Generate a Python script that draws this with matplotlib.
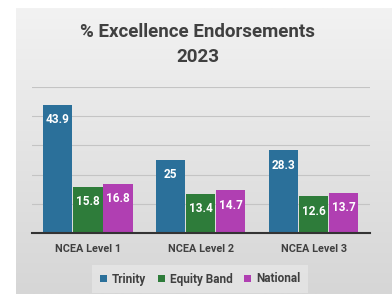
import matplotlib
matplotlib.use("Agg")
import matplotlib.pyplot as plt
import numpy as np
from matplotlib.colors import LinearSegmentedColormap

categories = ["NCEA Level 1", "NCEA Level 2", "NCEA Level 3"]
series_names = ["Trinity", "Equity Band", "National"]
trinity = [43.9, 25, 28.3]
equity = [15.8, 13.4, 12.6]
national = [16.8, 14.7, 13.7]
colors = ["#2b709a", "#2e7c3a", "#b03fb2"]

plt.rcParams['font.family'] = ['Roboto', 'DejaVu Sans']
W, H = 392, 294
fig = plt.figure(figsize=(W/100, H/100), dpi=100)
fig.patch.set_facecolor("white")

# card background with gradient
bg = fig.add_axes([16/W, 0, 1-16/W, 1-8/H])
grad = np.linspace(0, 1, 256).reshape(-1, 1)
cmap = LinearSegmentedColormap.from_list("g", ["#f2f2f2", "#d6d6d6"])
bg.imshow(grad, aspect="auto", cmap=cmap, extent=[0, 1, 0, 1], origin="upper")
bg.set_axis_off()

ax = fig.add_axes([31.5/W, 1-233/H, (370-31.5)/W, (233-87)/H])
ax.set_facecolor("none")
x = np.arange(len(categories))
bw = 0.267
for i, (vals, c, n) in enumerate(zip([trinity, equity, national], colors, series_names)):
    bars = ax.bar(x + (i-1)*bw, vals, bw*0.97, color=c, label=n, zorder=3)
    for b, v in zip(bars, vals):
        ax.annotate(f"{v:g}", (b.get_x()+b.get_width()/2, v), xytext=(0, -15),
                    textcoords="offset pixels", ha="center", va="center",
                    color="white", fontsize=8.5, fontweight="bold", zorder=4)

ax.set_xlim(-0.5, 2.5)
ax.set_ylim(0, 50)
ax.set_yticks([10, 20, 30, 40, 50])
ax.yaxis.grid(True, color="#c4c4c4", lw=0.8, zorder=0)
ax.tick_params(axis="y", left=False, labelleft=False)
ax.tick_params(axis="x", length=0, pad=8)
ax.set_xticks(x)
ax.set_xticklabels(categories, fontsize=7.8, fontweight="bold", color="#404040")
for s in ["top", "right", "left"]:
    ax.spines[s].set_visible(False)
ax.spines["bottom"].set_color("#333333")
ax.spines["bottom"].set_linewidth(1.5)
ax.spines["bottom"].set_zorder(5)

fig.text(198/W, 1-32/H, "% Excellence Endorsements", ha="center", va="center",
         fontsize=13.5, fontweight="bold", color="#404040")
fig.text(198/W, 1-57/H, "2023", ha="center", va="center",
         fontsize=13.5, fontweight="bold", color="#404040")

leg = fig.legend(loc="center", bbox_to_anchor=(200/W, 1-279/H), ncol=3,
                 frameon=True, fontsize=8.5, handlelength=0.6, handleheight=0.6,
                 handletextpad=0.4, columnspacing=1.0, borderpad=0.35)
leg.get_frame().set_facecolor("#e6e6e6")
leg.get_frame().set_edgecolor("none")
leg.get_frame().set_boxstyle("square")
for t in leg.get_texts():
    t.set_fontweight("bold")
    t.set_color("#404040")

fig.savefig("out.png", dpi=100)
